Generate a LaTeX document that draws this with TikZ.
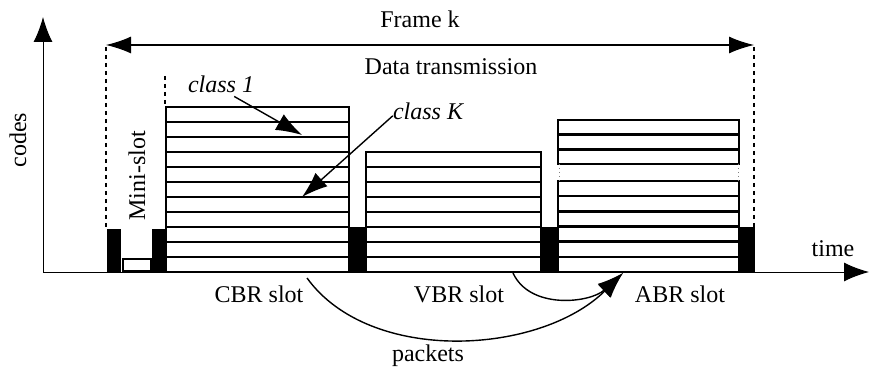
\documentclass[tikz,border=0pt]{standalone}
\usepackage{fontspec}
\setmainfont{Liberation Serif}
\usetikzlibrary{arrows.meta}
\begin{document}
\begin{tikzpicture}[x=1pt,y=-1pt,
  lbl/.style={inner sep=0pt,font=\fontsize{24}{28}\selectfont},
  ilbl/.style={lbl,font=\fontsize{24}{28}\selectfont\itshape},
  axis/.style={line width=1pt,-{Latex[length=25pt,width=19pt]}},
  bigtip/.style={line width=1.4pt,-{Latex[length=26pt,width=18pt]}},
  rowline/.style={line width=2.4pt},
  slotbox/.style={line width=1.8pt},
  guard/.style={fill=black,draw=none},
  guide/.style={line width=1.4pt,dash pattern=on 4pt off 4pt},
  faint/.style={line width=0.6pt,gray,dash pattern=on 1.5pt off 2.5pt}]
\useasboundingbox (0,0) rectangle (869,371);

% axes
\coordinate (o) at (43,272);
\coordinate (ytop) at (43,17);
\coordinate (xend) at (869,272);
\draw[axis] (o) -- (ytop);
\draw[axis] (o) -- (xend);
\node[lbl,rotate=90] (codes) at (18,140) {codes};
\node[lbl,anchor=base] (time) at (833,256) {time};

% frame extent
\coordinate (fl) at (106,45);
\coordinate (fr) at (754,45);
\draw[line width=1.2pt,{Latex[length=25pt,width=17pt]}-{Latex[length=25pt,width=17pt]}] (fl) -- (fr);
\node[lbl,anchor=base] (frame) at (420,28) {Frame k};
\node[lbl,anchor=base] (data) at (451,75) {Data transmission};
\draw[guide] (106,47) -- (106,228);
\draw[guide] (754,47) -- (754,227);
\draw[guide] (165,76) -- (165,105);

% mini-slot
\fill[guard] (107,229) rectangle (121,272);
\fill[guard] (152,229) rectangle (166,272);
\draw[line width=1.2pt] (123,259) rectangle (151,271);
\node[lbl,rotate=90] (mini) at (137,176) {Mini-slot};

% CBR slot: 11 code rows
\draw[slotbox] (166,107) rectangle (349,272);
\foreach \k in {1,...,10} \draw[rowline] (166,107+15*\k) -- (349,107+15*\k);
\fill[guard] (349,227) rectangle (366,272);

% VBR slot: 8 code rows
\draw[slotbox] (366,152) rectangle (541,272);
\foreach \k in {1,...,7} \draw[rowline] (366,152+15*\k) -- (541,152+15*\k);
\fill[guard] (541,227) rectangle (558,272);

% ABR slot: 3 + 6 code rows with a free row between them
\draw[slotbox] (558,120) rectangle (739,164);
\foreach \k in {1,2} \draw[rowline] (558,120+14.67*\k) -- (739,120+14.67*\k);
\draw[slotbox] (558,181) rectangle (739,272);
\foreach \k in {1,...,5} \draw[rowline] (558,181+15.17*\k) -- (739,181+15.17*\k);
\draw[faint] (559,164) -- (559,181);
\draw[faint] (738,164) -- (738,181);
\fill[guard] (739,227) rectangle (755,272);

% class labels and pointers
\node[ilbl,anchor=base] (c1) at (221,93) {class 1};
\node[ilbl,anchor=base] (cK) at (428,120) {class K};
\coordinate (c1tip) at (302,135);
\coordinate (cKtip) at (302,197);
\draw[bigtip] (c1.south east) ++(-20,3) coordinate (c1s) -- (c1tip);
\draw[bigtip] (cK.west) ++(0,4) coordinate (cKs) -- (cKtip);

% slot names
\node[lbl,anchor=base] (cbr) at (259,302) {CBR slot};
\node[lbl,anchor=base] (vbr) at (459,302) {VBR slot};
\node[lbl,anchor=base] (abr) at (680,302) {ABR slot};

% packet migration into the ABR slot
\coordinate (fromcbr) at (307,278);
\coordinate (fromvbr) at (513,273);
\coordinate (toabr) at (623,273);
\draw[bigtip] (fromcbr) .. controls (370,365) and (540,355) .. (toabr);
\draw[bigtip] (fromvbr) .. controls (530,310) and (590,303) .. (toabr);
\node[lbl,anchor=base] (pk) at (428,361) {packets};
\end{tikzpicture}
\end{document}
